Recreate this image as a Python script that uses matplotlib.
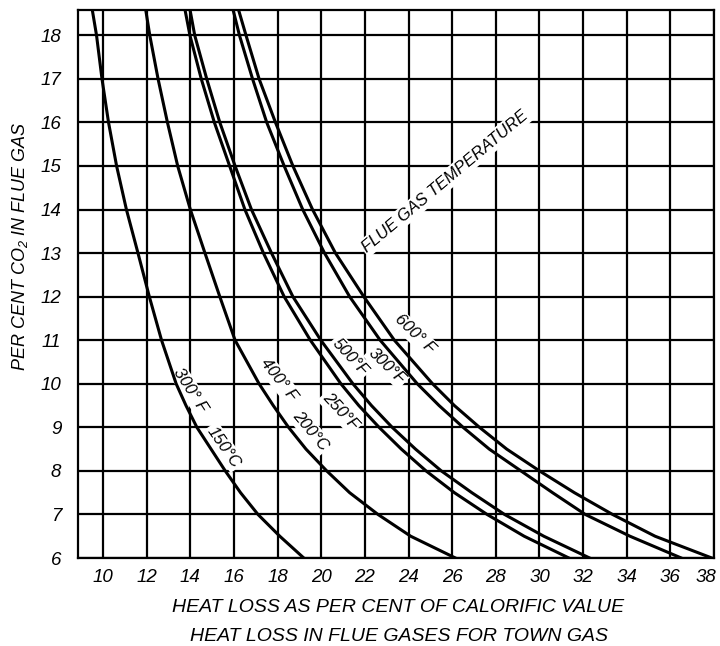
import matplotlib.pyplot as plt
from matplotlib.transforms import ScaledTranslation

plt.rcParams['font.family'] = ['Liberation Sans', 'DejaVu Sans']
plt.rcParams['font.style'] = 'italic'
plt.rcParams['mathtext.fontset'] = 'custom'
plt.rcParams['mathtext.rm'] = 'Liberation Sans:italic'
plt.rcParams['mathtext.it'] = 'Liberation Sans:italic'

# per cent CO2 in flue gas (y) and heat loss % (x) for each flue gas temperature
co2 = [6, 6.5, 7, 7.5, 8, 8.5, 9, 9.5, 10, 11, 12, 13, 14, 15, 16, 17, 18, 18.6]
loss_300f = [19.2, 18.1, 17.1, 16.3, 15.6, 14.95, 14.3, 13.8, 13.35, 12.68,
             12.12, 11.6, 11.07, 10.62, 10.25, 9.95, 9.7, 9.5]
loss_400f = [26.15, 24.1, 22.6, 21.3, 20.25, 19.3, 18.5, 17.8, 17.15, 16.05,
             15.35, 14.67, 14.0, 13.42, 12.95, 12.52, 12.14, 11.95]
loss_250c = [31.35, 29.3, 27.6, 26.1, 24.8, 23.67, 22.65, 21.72, 20.9, 19.5,
             18.3, 17.35, 16.5, 15.8, 15.1, 14.5, 13.98, 13.75]
loss_500f = [32.3, 30.2, 28.4, 26.9, 25.5, 24.32, 23.25, 22.3, 21.45, 19.98,
             18.7, 17.72, 16.8, 16.05, 15.35, 14.75, 14.2, 13.98]
loss_300c = [36.5, 34.15, 32.1, 30.6, 29.15, 27.7, 26.5, 25.4, 24.4, 22.7,
             21.3, 20.15, 19.15, 18.3, 17.5, 16.85, 16.25, 15.95]
loss_600f = [37.9, 35.3, 33.35, 31.6, 30.0, 28.5, 27.25, 26.1, 25.1, 23.35,
             21.95, 20.65, 19.6, 18.7, 17.9, 17.15, 16.55, 16.2]

x_ticks = list(range(10, 39, 2))
y_ticks = list(range(6, 19))

# curve labels: text, x, y, angle
curve_labels = [
    ("300° F", 13.99, 9.85, -57),
    ("150°C", 15.54, 8.55, -55),
    ("400° F", 18.03, 10.1, -52),
    ("200°C", 19.5, 8.92, -50),
    ("500°F", 21.33, 10.62, -47),
    ("250°F", 20.87, 9.36, -47),
    ("300°F", 23.01, 10.4, -44),
    ("600° F", 24.27, 11.14, -44),
]

fig = plt.figure(figsize=(7.2, 6.46), dpi=100)
ax = fig.add_axes([0.1083, 0.1362, 0.8834, 0.8483])

for loss in [loss_300f, loss_400f, loss_250c, loss_500f, loss_300c, loss_600f]:
    ax.plot(loss, co2, color="black", lw=2.2, zorder=4)

ax.set_xlim(8.85, 38)
ax.set_ylim(6, 18.58)
ax.set_xticks(x_ticks)
ax.set_yticks(y_ticks)
ax.set_axisbelow(True)
ax.grid(color="black", lw=1.6)
ax.tick_params(length=0, labelsize=13.5)
ax.tick_params(axis="x", pad=8)
ax.tick_params(axis="y", pad=12)
for s in ax.spines.values():
    s.set_linewidth(1.6)

# pull the last x tick label ("38") in so it stays on the canvas
last = ax.get_xticklabels()[-1]
last.set_transform(last.get_transform() + ScaledTranslation(-0.08, 0, fig.dpi_scale_trans))

for txt, x, y, ang in curve_labels:
    ax.text(x, y, txt, rotation=ang, rotation_mode="anchor", ha="center",
            va="center", fontsize=12, zorder=3,
            bbox=dict(facecolor="white", edgecolor="none", pad=1.5))

ax.text(25.69, 14.65, "FLUE GAS TEMPERATURE", rotation=40, rotation_mode="anchor",
        ha="center", va="center", fontsize=12, zorder=3,
        bbox=dict(facecolor="white", edgecolor="none", pad=1.5))

fig.text(0.028, 0.619, "PER CENT CO$_2$ IN FLUE GAS", rotation=90,
         ha="center", va="center", fontsize=13)
fig.text(0.553, 0.059, "HEAT LOSS AS PER CENT OF CALORIFIC VALUE",
         ha="center", va="center", fontsize=14)
fig.text(0.554, 0.014, "HEAT LOSS IN FLUE GASES FOR TOWN GAS",
         ha="center", va="center", fontsize=14)

fig.savefig("out.png", dpi=100)
